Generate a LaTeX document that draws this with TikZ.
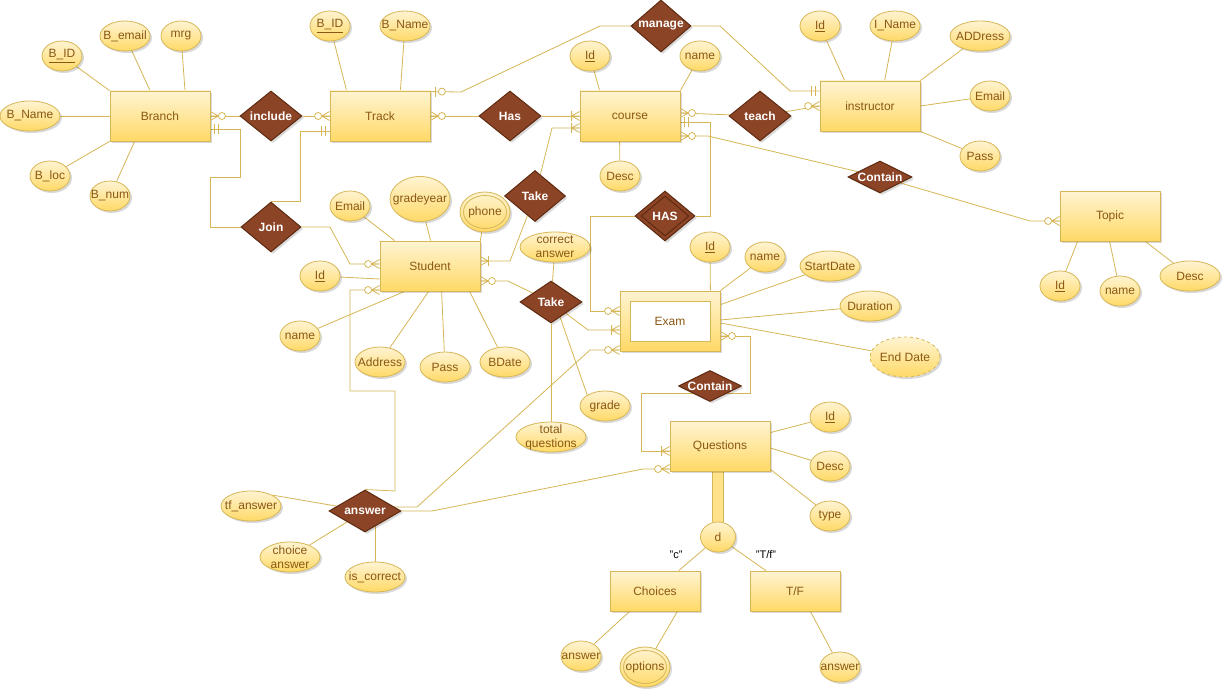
\documentclass[tikz,border=0pt]{standalone}
\usepackage{fontspec}
\setmainfont{Liberation Sans}
\usetikzlibrary{shapes.geometric,calc,shadows}
\definecolor{lineC}{HTML}{D6B656}
\definecolor{fillTop}{HTML}{FFF4D2}
\definecolor{fillBot}{HTML}{FFD966}
\definecolor{dfill}{HTML}{FFE28A}
\definecolor{relF}{HTML}{8C4426}
\definecolor{relB}{HTML}{5E2A10}
\definecolor{txtC}{HTML}{8A5814}
\pgfdeclarelayer{bg}
\pgfsetlayers{bg,main}
\begin{document}
\begin{tikzpicture}[x=1pt,y=-1pt,
 font=\fontsize{12}{14}\selectfont,
 shad/.style={drop shadow={shadow xshift=2pt,shadow yshift=-2pt,opacity=0.15,fill=black}},
 ent/.style={rectangle, draw=lineC, line width=0.8pt, top color=fillTop, bottom color=fillBot, minimum width=100pt, minimum height=50pt, inner sep=0pt, shad},
 attr/.style={ellipse, draw=lineC, line width=0.8pt, top color=fillTop, bottom color=fillBot, inner sep=0pt, minimum width=40pt, minimum height=30pt, shad},
 rel/.style={diamond, draw=relB, line width=1pt, fill=relF, inner sep=0pt, minimum width=62pt, minimum height=50pt, shad},
 lab/.style={text=txtC, align=center, inner sep=0pt, font=\fontsize{12}{14}\selectfont},
 tx/.style={label={[lab]center:#1}},
 rx/.style={label={[lab,text=white,font=\fontsize{12}{14}\selectfont\bfseries]center:#1}},
 conn/.style={draw=lineC, line width=0.8pt},
 pics/zm/.style={code={\draw[conn] (0,-4.5) -- (-8,0) -- (0,4.5) (-8,0) -- (0,0); \draw[conn,fill=white] (-11.5,0) circle[radius=3.5pt];}},
 pics/om/.style={code={\draw[conn] (0,-4.5) -- (-8,0) -- (0,4.5) (-8,0) -- (0,0) (-8,-5) -- (-8,5);}},
 pics/oo/.style={code={\draw[conn] (-4,-5) -- (-4,5) (-8,-5) -- (-8,5);}},
 pics/zo/.style={code={\draw[conn] (-5,-5) -- (-5,5); \draw[conn,fill=white] (-11.5,0) circle[radius=3.5pt];}},
]
\useasboundingbox (0,0) rectangle (1232,698);

% ---------- entities
\node[ent,tx=Branch] (Branch) at (160,116) {};
\node[ent,tx=Track] (Track) at (380,116) {};
\node[ent,tx=course] (course) at (630,116) {};
\node[ent,tx=instructor] (instr) at (870,106) {};
\node[ent,tx=Topic] (Topic) at (1110,216) {};
\node[ent,tx=Student] (Student) at (430,266) {};
\node[ent,minimum height=60pt] (Exam) at (670,321) {};
\node[rectangle,draw=lineC,line width=0.8pt,fill=white,minimum width=80pt,minimum height=40pt,inner sep=0pt,tx=Exam] (ExamIn) at (670,321) {};
\node[ent,tx=Questions] (Quest) at (720,446) {};
\node[ent,minimum width=90pt,minimum height=40pt,tx=Choices] (Choices) at (655,591) {};
\node[ent,minimum width=90pt,minimum height=40pt,tx=T/F] (TF) at (795,591) {};

% ---------- relationships
\node[rel,rx=include] (include) at (271,116) {};
\node[rel,rx=Has] (Has) at (510,116) {};
\node[rel,minimum width=60pt,minimum height=52pt,rx=manage] (manage) at (661,26) {};
\node[rel,rx=teach] (teach) at (760,116) {};
\node[rel,minimum width=60pt,rx=Join] (Join) at (271,227) {};
\node[rel,minimum width=61pt,minimum height=51pt,rx=Take] (TakeA) at (535,196) {};
\node[rel,minimum width=60pt,minimum height=50pt] (HAS) at (665,216) {};
\node[diamond,draw=relB,line width=1pt,minimum width=48pt,minimum height=40pt,inner sep=0pt,rx=HAS] (HASin) at (665,216) {};
\node[rel,minimum width=62pt,minimum height=42pt,rx=Take] (TakeB) at (551,302) {};
\node[rel,minimum width=64pt,minimum height=32pt,rx=Contain] (ContainA) at (880,177) {};
\node[rel,minimum width=63pt,minimum height=31pt,rx=Contain] (ContainB) at (710,386) {};
\node[rel,minimum width=72pt,minimum height=42pt,rx=answer] (answer) at (365,511) {};

% ---------- attributes
\node[attr,tx={\underline{B\_ID}}] (bid) at (62,56) {};
\node[attr,minimum width=50pt,tx=B\_email] (bemail) at (125,36) {};
\node[attr,tx=mrg] (mrg) at (181,36) {};
\node[attr,minimum width=60pt,tx=B\_Name] (bname) at (30,116) {};
\node[attr,tx=B\_loc] (bloc) at (50,176) {};
\node[attr,tx=B\_num] (bnum) at (110,196) {};
\node[attr,tx={\underline{B\_ID}}] (tbid) at (330,26) {};
\node[attr,minimum width=50pt,tx=B\_Name] (tbname) at (405,26) {};
\node[attr,tx={\underline{Id}}] (cid) at (590,56) {};
\node[attr,tx=name] (cname) at (700,56) {};
\node[attr,tx=Desc] (cdesc) at (620,176) {};
\node[attr,tx={\underline{Id}}] (iid) at (820,26) {};
\node[attr,minimum width=50pt,tx=I\_Name] (iname) at (895,26) {};
\node[attr,minimum width=60pt,tx=ADDress] (iaddr) at (980,36) {};
\node[attr,tx=Email] (iemail) at (990,96) {};
\node[attr,tx=Pass] (ipass) at (980,156) {};
\node[attr,tx={\underline{Id}}] (tid) at (1060,286) {};
\node[attr,tx=name] (tname) at (1120,291) {};
\node[attr,minimum width=60pt,tx=Desc] (tdesc) at (1190,276) {};
\node[attr,tx=Email] (semail) at (350,206) {};
\node[attr,minimum width=60pt,minimum height=45pt,tx=gradeyear] (sgrade) at (420,199) {};
\node[attr,minimum width=50pt,minimum height=40pt] (sphone) at (485,212) {};
\node[ellipse,draw=lineC,line width=0.8pt,minimum width=43pt,minimum height=33pt,inner sep=0pt,tx=phone] (sphoneIn) at (485,212) {};
\node[attr,tx={\underline{Id}}] (sid) at (320,276) {};
\node[attr,tx=name] (sname) at (300,336) {};
\node[attr,minimum width=50pt,tx=Address] (saddr) at (380,362) {};
\node[attr,minimum width=50pt,tx=Pass] (spass) at (445,367) {};
\node[attr,minimum width=50pt,tx=BDate] (sbdate) at (505,362) {};
\node[attr,minimum width=70pt,tx={correct\\answer}] (corrans) at (555,247) {};
\node[attr,minimum width=70pt,tx={total\\questions}] (totq) at (551,437) {};
\node[attr,minimum width=50pt,tx=grade] (grade) at (605,406) {};
\node[attr,tx={\underline{Id}}] (eid) at (710,247) {};
\node[attr,tx=name] (ename) at (765,257) {};
\node[attr,minimum width=60pt,tx=StartDate] (estart) at (830,266) {};
\node[attr,minimum width=60pt,tx=Duration] (edur) at (870,306) {};
\node[attr,dashed,minimum width=70pt,minimum height=40pt,tx={End Date}] (eend) at (905,357) {};
\node[attr,tx={\underline{Id}}] (qid) at (830,417) {};
\node[attr,tx=Desc] (qdesc) at (830,466) {};
\node[attr,tx=type] (qtype) at (830,516) {};
\node[attr,minimum width=35pt,minimum height=30pt,tx=d] (d) at (718,537) {};
\node[attr,tx=answer] (chans) at (581,656) {};
\node[attr,minimum width=50pt,minimum height=40pt] (chopt) at (645,667) {};
\node[ellipse,draw=lineC,line width=0.8pt,minimum width=43pt,minimum height=33pt,inner sep=0pt,tx=options] (choptIn) at (645,667) {};
\node[attr,tx=answer] (tfans) at (840,667) {};
\node[attr,minimum width=60pt,tx=tf\_answer] (ansTF) at (251,506) {};
\node[attr,minimum width=60pt,tx={choice\\answer}] (ansCh) at (290,557) {};
\node[attr,minimum width=60pt,tx=is\_correct] (ansIs) at (375,577) {};

% ---------- subtype labels
\node[inner sep=0pt,font=\fontsize{11}{13}\selectfont] (lc) at (676,555) {"c"};
\node[inner sep=0pt,font=\fontsize{11}{13}\selectfont] (ltf) at (766,555) {"T/f"};

% ---------- connectors (behind the nodes)
\begin{pgfonlayer}{bg}
\fill[white] (0,0) rectangle (1232,698);
% attribute lines
\draw[conn] (Branch.north west) -- (bid);
\draw[conn] ($(Branch.north)+(-10,0)$) -- (bemail);
\draw[conn] ($(Branch.north)+(25,0)$) -- (mrg);
\draw[conn] (Branch.west) -- (bname);
\draw[conn] (Branch.south west) -- (bloc);
\draw[conn] ($(Branch.south west)+(25,0)$) -- (bnum);
\draw[conn] ($(Track.north west)+(17,0)$) -- (tbid);
\draw[conn] ($(Track.north east)+(-30,0)$) -- (tbname);
\draw[conn] ($(course.north west)+(20,0)$) -- (cid);
\draw[conn] (course.north east) -- (cname);
\draw[conn] ($(course.south west)+(40,0)$) -- (cdesc);
\draw[conn] ($(instr.north west)+(25,0)$) -- (iid);
\draw[conn] ($(instr.north west)+(65,0)$) -- (iname);
\draw[conn] (instr.north east) -- (iaddr);
\draw[conn] (instr.east) -- (iemail);
\draw[conn] (instr.south east) -- (ipass);
\draw[conn] ($(Topic.south west)+(18,0)$) -- (tid);
\draw[conn] ($(Topic.south west)+(50,0)$) -- (tname);
\draw[conn] ($(Topic.south east)+(-15,0)$) -- (tdesc);
\draw[conn] ($(Student.north west)+(15,0)$) -- (semail);
\draw[conn] ($(Student.north west)+(51,0)$) -- (sgrade);
\draw[conn] (Student.north east) -- (sphone);
\draw[conn] ($(Student.west)+(0,13)$) -- (sid);
\draw[conn] ($(Student.south west)+(25,0)$) -- (sname);
\draw[conn] ($(Student.south west)+(49,0)$) -- (saddr);
\draw[conn] ($(Student.south west)+(62,0)$) -- (spass);
\draw[conn] ($(Student.south west)+(90,0)$) -- (sbdate);
\draw[conn] (TakeB) -- (corrans);
\draw[conn] (TakeB) -- (totq);
\draw[conn] ($(TakeB)+(8,12)$) -- ($(grade)+(-15,-3)$);
\draw[conn] ($(Exam.north east)+(-10,0)$) -- (eid);
\draw[conn] (Exam.north east) -- (ename);
\draw[conn] ($(Exam.north east)+(0,14)$) -- (estart);
\draw[conn] ($(Exam.east)+(0,-1)$) -- (edur);
\draw[conn] ($(Exam.east)+(0,2)$) -- (eend);
\draw[conn] ($(Quest.north east)+(0,12)$) -- (qid);
\draw[conn] ($(Quest.east)+(0,2)$) -- (qdesc);
\draw[conn] ($(Quest.south east)+(0,-2)$) -- (qtype);
\draw[draw=lineC,line width=1pt,double=dfill,double distance=10pt] (d |- Quest.south) -- (d);
\draw[conn] (d) -- (Choices);
\draw[conn] (d) -- (TF);
\draw[conn] ($(Choices.south west)+(20,0)$) -- (chans);
\draw[conn] ($(Choices.south east)+(-23,0)$) -- (chopt);
\draw[conn] ($(TF.south east)+(-30,0)$) -- (tfans);
\draw[conn] (ansTF.north east) -- (answer);
\draw[conn] (ansCh) -- (answer);
\draw[conn] ($(answer)+(10,0)$) -- (ansIs);
% relationship lines
\draw[conn] (Branch.east) -- (include);
\draw[conn] (include) -- (Track.west);
\draw[conn] ($(Branch.east)+(0,13)$) -- ++(30,0) -- ++(0,48) -- ++(-30,0) |- (Join);
\draw[conn] ($(Track.west)+(0,15)$) -- ++(-29,0) |- (Join.north);
\draw[conn] (Join) -- (330,227) -- (350,264) -- ($(Student.west)+(0,-2)$);
\draw[conn] ($(Student.west)+(0,24)$) -- (350,290) -- (350,391) -- (395,391) -- (395,491) -- (answer.north);
\draw[conn] ($(Student.east)+(0,-5)$) -- (510,261) -- (TakeA);
\draw[conn] (TakeA) -- (552,128) -- ($(course.west)+(0,12)$);
\draw[conn] (Track.east) -- (Has);
\draw[conn] (Has) -- (course.west);
\draw[conn] ($(Track.north east)+(0,1)$) -- (461,92) -- (600,26) -- (manage);
\draw[conn] (manage) -- (720,26) -- (790,91) -- ($(instr.west)+(0,-15)$);
\draw[conn] ($(course.east)+(0,-3)$) -- (teach);
\draw[conn] (teach) -- (instr.west);
\draw[conn] ($(course.east)+(0,6)$) -- (710,122) |- (HAS);
\draw[conn] (HAS) -| (590,311) -- ($(Exam.west)+(0,-10)$);
\draw[conn] ($(course.east)+(0,20)$) -- (708,136) -- (ContainA);
\draw[conn] (ContainA) -- (1030,221) -- ($(Topic.west)+(0,5)$);
\draw[conn] ($(Student.east)+(0,15)$) -- (508,281) -- (TakeB);
\draw[conn] (TakeB) -- (588,330) -- ($(Exam.west)+(0,9)$);
\draw[conn] ($(Exam.east)+(0,15)$) -- (750,336) -- (750,393) -- ($(ContainB)+(0,7)$);
\draw[conn] ($(ContainB)+(0,7)$) -- (641,393) -- (641,451) -- ($(Quest.west)+(0,5)$);
\draw[conn] (answer.east) -- (432,511) -- (643,469) -- ($(Quest.west)+(0,23)$);
\draw[conn] ($(answer)+(22,-4)$) -- (417,507) -- (590,350) -- ($(Exam.west)+(0,29)$);
\end{pgfonlayer}

% ---------- cardinality markers
\pic[xscale=-1] at (Branch.east) {zm};
\pic at (Track.west) {zm};
\pic[xscale=-1] at ($(Branch.east)+(0,13)$) {oo};
\pic at ($(Track.west)+(0,15)$) {oo};
\pic at ($(Student.west)+(0,-2)$) {zm};
\pic at ($(Student.west)+(0,24)$) {zm};
\pic[xscale=-1] at ($(Student.east)+(0,-5)$) {om};
\pic at ($(course.west)+(0,12)$) {om};
\pic[xscale=-1] at (Track.east) {zm};
\pic at (course.west) {om};
\pic[xscale=-1] at ($(Track.north east)+(0,1)$) {zo};
\pic at ($(instr.west)+(0,-15)$) {oo};
\pic[xscale=-1] at ($(course.east)+(0,-3)$) {zm};
\pic at (instr.west) {zm};
\pic[xscale=-1] at ($(course.east)+(0,6)$) {oo};
\pic at ($(Exam.west)+(0,-10)$) {zm};
\pic[xscale=-1] at ($(course.east)+(0,20)$) {zm};
\pic at ($(Topic.west)+(0,5)$) {zm};
\pic[xscale=-1] at ($(Student.east)+(0,15)$) {zm};
\pic at ($(Exam.west)+(0,9)$) {om};
\pic[xscale=-1] at ($(Exam.east)+(0,15)$) {zm};
\pic at ($(Quest.west)+(0,5)$) {om};
\pic at ($(Quest.west)+(0,23)$) {zm};
\pic at ($(Exam.west)+(0,29)$) {zm};
\end{tikzpicture}
\end{document}
